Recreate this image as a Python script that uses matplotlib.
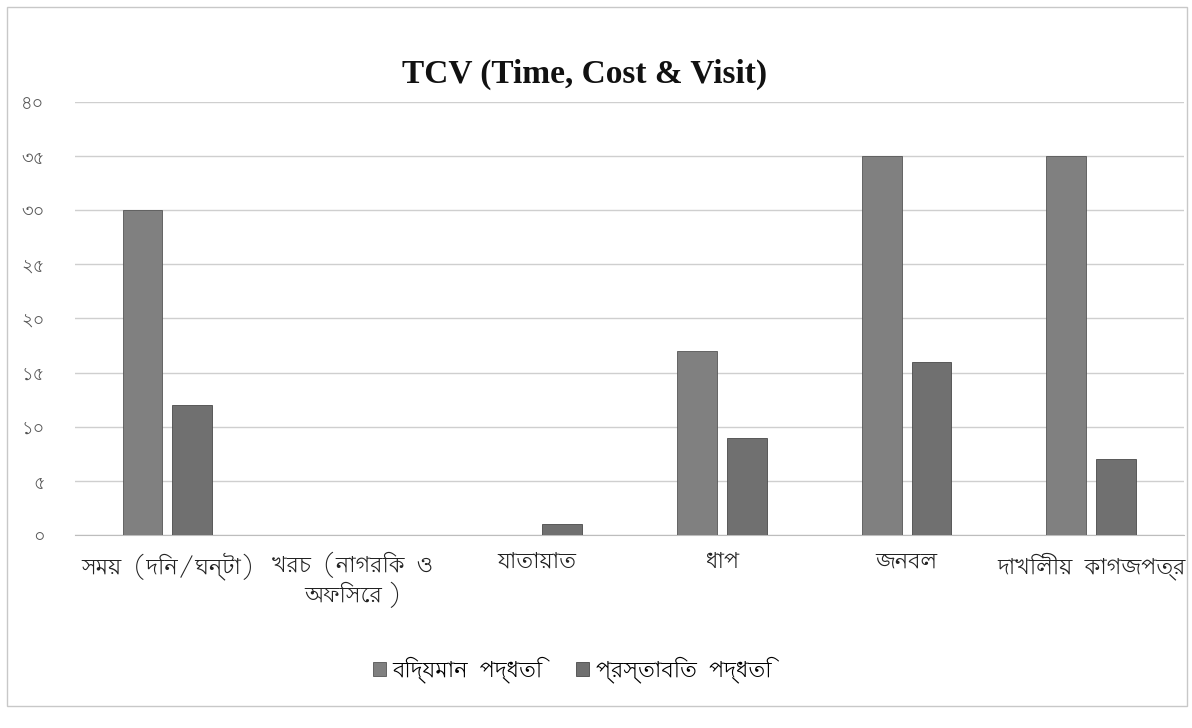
import matplotlib
matplotlib.use("Agg")
import matplotlib.pyplot as plt
from matplotlib import font_manager
import numpy as np
import os
from matplotlib.patches import Rectangle

categories = ["সম\u09df  (দিন/ঘন্টা)", "খরচ  (নাগরিক  ও\nঅফিসের )", "যাতা\u09dfাত", "ধাপ", "জনবল", "দাখিলী\u09df  কাগজপত্র"]
existing = [30, 0, 0, 17, 35, 35]
proposed = [12, 0, 1, 9, 16, 7]
series_names = ["বিদ্যমান  পদ্ধতি", "প্রস্তাবিত  পদ্ধতি"]
yticks = [0, 5, 10, 15, 20, 25, 30, 35, 40]
ytick_labels = ["০", "৫", "১০", "১৫", "২০", "২৫", "৩০", "৩৫", "৪০"]
title = "TCV (Time, Cost & Visit)"

for p in ["/usr/share/fonts/truetype/google-fonts/Lohit-Bengali.ttf",
          "/usr/share/fonts/truetype/google-fonts/NotoSansBengali[wdth,wght].ttf"]:
    if os.path.exists(p):
        try:
            font_manager.fontManager.addfont(p)
        except Exception:
            pass

plt.rcParams['font.family'] = ['Lohit Bengali', 'Noto Sans Bengali', 'DejaVu Sans']

fig = plt.figure(figsize=(11.92, 7.28), dpi=100)
ax = fig.add_axes([0.063, 0.265, 0.93, 0.595])

x = np.arange(len(categories))
w = 0.216
gap = 0.054
c1 = "#808080"
c2 = "#707070"
ax.bar(x - (w + gap) / 2, existing, w, color=c1, edgecolor="#555555", linewidth=0.6, label=series_names[0], zorder=3)
ax.bar(x + (w + gap) / 2, proposed, w, color=c2, edgecolor="#4a4a4a", linewidth=0.6, label=series_names[1], zorder=3)

ax.set_xlim(-0.5, len(categories) - 0.5)
ax.set_ylim(0, 40)
ax.set_yticks(yticks)
ax.set_yticklabels(ytick_labels, fontsize=13, color="#555555")
ax.set_xticks(x)
ax.set_xticklabels(categories, fontsize=16, color="#222222", linespacing=1.2)
ax.tick_params(axis="y", length=0, pad=22)
ax.tick_params(axis="x", length=0, pad=12)
ax.grid(axis="y", color="#cfcfcf", linewidth=1.0, zorder=0)
for s in ["top", "right", "left"]:
    ax.spines[s].set_visible(False)
ax.spines["bottom"].set_color("#bdbdbd")

fig.text(0.49, 0.898, title, ha="center", va="center", fontsize=24, fontweight="bold",
         family=["Liberation Serif", "DejaVu Serif"], color="#111111")

fig.legend(loc="center", bbox_to_anchor=(0.48, 0.08), ncol=2, frameon=False,
           fontsize=16, handlelength=0.6, handleheight=0.6, handletextpad=0.3, columnspacing=1.5)

fig.patches.append(Rectangle((0.006, 0.03), 0.99, 0.96, transform=fig.transFigure,
                             fill=False, edgecolor="#c8c8c8", linewidth=1.0))

fig.savefig("out.png", dpi=100, facecolor="white")
